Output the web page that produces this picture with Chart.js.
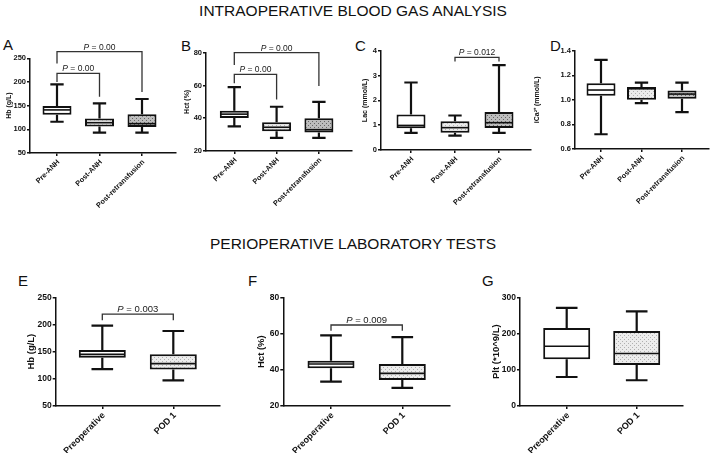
<!DOCTYPE html>
<html>
<head>
<meta charset="utf-8">
<script src="https://cdn.jsdelivr.net/npm/chart.js@4.4.1/dist/chart.umd.min.js"></script>
<style>
  body { margin: 0; background: #fff; width: 710px; height: 453px; position: relative; overflow: hidden;
         font-family: "Liberation Sans", Arial, sans-serif; }
  .title { position: absolute; left: 0; width: 706px; text-align: center; font-size: 15.5px; line-height: 15.5px; color: #111; }
  .letter { position: absolute; font-size: 15px; line-height: 15px; color: #111; }
  canvas { position: absolute; }
</style>
</head>
<body>
<div class="title" style="top:2.5px">INTRAOPERATIVE BLOOD GAS ANALYSIS</div>
<div class="title" style="top:235.5px">PERIOPERATIVE LABORATORY TESTS</div>
<div class="letter" style="left:3px;top:37px">A</div>
<div class="letter" style="left:181px;top:38px">B</div>
<div class="letter" style="left:355px;top:38px">C</div>
<div class="letter" style="left:550px;top:38px">D</div>
<div class="letter" style="left:18px;top:273px">E</div>
<div class="letter" style="left:248px;top:273px">F</div>
<div class="letter" style="left:482px;top:273px">G</div>

<script>
// groups
const intraGroups = ['Pre-ANH', 'Post-ANH', 'Post-retransfusion'];
const periGroups = ['Preoperative', 'POD 1'];

// box stats per group: [min, q1, median, q3, max]
const hbIntra = [[116, 131, 141, 149, 195], [93, 106, 114, 123, 155], [93, 105, 112, 132, 164]];
const hctIntra = [[35, 40.2, 42.5, 44.5, 59], [28, 32, 34.5, 37.6, 47], [28, 31.3, 33, 40, 50]];
const lacIntra = [[0.69, 0.88, 0.99, 1.43, 2.72], [0.58, 0.69, 0.9, 1.16, 1.39], [0.69, 0.89, 1.1, 1.53, 3.42]];
const icaIntra = [[0.72, 1.033, 1.08, 1.136, 1.325], [0.973, 1.0, 1.09, 1.105, 1.14], [0.90, 1.008, 1.047, 1.076, 1.14]];
const hbPeri = [[118, 139, 145, 153, 198], [97, 117, 128, 145, 188]];
const hctPeri = [[33.4, 40.8, 43.2, 45, 59], [30, 34.4, 38, 43.2, 58]];
const pltPeri = [[80, 129, 165, 215, 271], [71, 113, 145, 207, 261]];

// y tick labels
const hbTicks = [50, 100, 150, 200, 250];
const hctTicks = [20, 40, 60, 80];
const lacTicks = [0, 1, 2, 3, 4];
const icaTicks = [0.6, 0.8, 1.0, 1.2, 1.4];
const pltTicks = [0, 100, 200, 300];

// significance brackets: [fromGroup, toGroup, barValue, leftLegEnd, rightLegEnd, p]
const hbIntraP = [[0, 2, 264, 239, 179, '0.00'], [0, 1, 218, 200, 169, '0.00']];
const hctIntraP = [[0, 2, 80, 72.5, 59.6, '0.00'], [0, 1, 66.8, 61.3, 51.5, '0.00']];
const lacIntraP = [[1, 2, 3.73, 3.56, 3.56, '0.012']];
const hbPeriP = [[0, 1, 219, 208, 208, '0.003']];
const hctPeriP = [[0, 1, 64.7, 61.6, 61.6, '0.009']];

function makePattern(base, dot, step) {
  const c = document.createElement('canvas');
  c.width = step * 2; c.height = step * 2;
  const g = c.getContext('2d');
  g.fillStyle = base;
  g.fillRect(0, 0, c.width, c.height);
  g.fillStyle = dot;
  g.fillRect(0, 0, 1, 1);
  g.fillRect(step, step, 1, 1);
  return g.createPattern(c, 'repeat');
}
const lightFill = makePattern('#ececec', '#b0b0b0', 2);
const darkFill = makePattern('#bdbdbd', '#666666', 2);

const FONT = '"Liberation Sans", Arial, sans-serif';

const panels = [
  { groups: intraGroups, boxes: hbIntra, yTicks: hbTicks, title: 'Hb (g/L)', p: hbIntraP,
    area: [30, 58.3, 176, 152.7], c0: 57, step: 42.5, titleX: 9, row: 0 },
  { groups: intraGroups, boxes: hctIntra, yTicks: hctTicks, title: 'Hct (%)', p: hctIntraP,
    area: [206, 52.7, 352, 150.7], c0: 234.3, step: 42.3, titleX: 187.5, row: 0 },
  { groups: intraGroups, boxes: lacIntra, yTicks: lacTicks, title: 'Lac (mmol/L)', p: lacIntraP,
    area: [381, 50.7, 531, 149.3], c0: 411, step: 44, titleX: 365, row: 0 },
  { groups: intraGroups, boxes: icaIntra, yTicks: icaTicks, title: 'iCa²⁺ (mmol/L)', p: [],
    area: [575, 50.7, 709, 148.5], c0: 601, step: 40.5, titleX: 537, row: 0, fixed: 1 },
  { groups: periGroups, boxes: hbPeri, yTicks: hbTicks, title: 'Hb (g/L)', p: hbPeriP,
    area: [55.7, 297.3, 220, 405.7], c0: 102.3, step: 71, titleX: 31.7, row: 1 },
  { groups: periGroups, boxes: hctPeri, yTicks: hctTicks, title: 'Hct (%)', p: hctPeriP,
    area: [283.3, 297.3, 450, 406], c0: 331, step: 71.3, titleX: 261.7, row: 1 },
  { groups: periGroups, boxes: pltPeri, yTicks: pltTicks, title: 'Plt (*10^9/L)', p: [],
    area: [520, 297.3, 683, 406], c0: 566.7, step: 70, titleX: 496, row: 1 }
];

function boxPlugin(panel, sz) {
  return {
    id: 'boxWhiskers',
    afterDatasetsDraw(chart) {
      const { ctx, scales: { x, y } } = chart;
      const meta = chart.getDatasetMeta(0);
      ctx.save();
      ctx.strokeStyle = '#111';
      panel.boxes.forEach((b, i) => {
        const bar = meta.data[i];
        const cx = x.getPixelForValue(i);
        const half = bar.width / 2;
        const cap = bar.width * 0.23;
        const yMin = y.getPixelForValue(b[0]);
        const yQ1 = y.getPixelForValue(b[1]);
        const yMed = y.getPixelForValue(b[2]);
        const yQ3 = y.getPixelForValue(b[3]);
        const yMax = y.getPixelForValue(b[4]);
        ctx.lineWidth = 2.2;
        ctx.beginPath();
        ctx.moveTo(cx, yMax); ctx.lineTo(cx, yQ3);
        ctx.moveTo(cx, yQ1); ctx.lineTo(cx, yMin);
        ctx.moveTo(cx - cap, yMax); ctx.lineTo(cx + cap, yMax);
        ctx.moveTo(cx - cap, yMin); ctx.lineTo(cx + cap, yMin);
        ctx.stroke();
        ctx.lineWidth = 1.6;
        ctx.beginPath();
        ctx.moveTo(cx - half + 1, yMed); ctx.lineTo(cx + half - 1, yMed);
        ctx.stroke();
      });

      // brackets
      ctx.strokeStyle = '#333';
      ctx.fillStyle = '#1a1a1a';
      ctx.lineWidth = 1.3;
      panel.p.forEach(([a, b, v, va, vb, txt]) => {
        const xa = x.getPixelForValue(a);
        const xb = x.getPixelForValue(b);
        const yv = y.getPixelForValue(v);
        ctx.beginPath();
        ctx.moveTo(xa, y.getPixelForValue(va));
        ctx.lineTo(xa, yv);
        ctx.lineTo(xb, yv);
        ctx.lineTo(xb, y.getPixelForValue(vb));
        ctx.stroke();
        const rest = ' = ' + txt;
        ctx.font = `italic ${sz.p}px ${FONT}`;
        const wP = ctx.measureText('P').width;
        ctx.font = `${sz.p}px ${FONT}`;
        const wR = ctx.measureText(rest).width;
        const left = (xa + xb) / 2 - (wP + wR) / 2;
        ctx.textBaseline = 'alphabetic';
        ctx.textAlign = 'left';
        ctx.font = `italic ${sz.p}px ${FONT}`;
        ctx.fillText('P', left, yv - 2);
        ctx.font = `${sz.p}px ${FONT}`;
        ctx.fillText(rest, left + wP, yv - 2);
      });

      // slanted category labels under the x axis
      ctx.fillStyle = '#111';
      ctx.font = `bold ${sz.x}px ${FONT}`;
      ctx.textAlign = 'right';
      ctx.textBaseline = 'middle';
      panel.groups.forEach((g, i) => {
        ctx.save();
        ctx.translate(x.getPixelForValue(i) + 1.5, x.top + sz.xOff);
        ctx.rotate(-Math.PI / 4);
        ctx.fillText(g, 0, 0);
        ctx.restore();
      });
      ctx.restore();
    }
  };
}

panels.forEach(panel => {
  const [L, T, R, B] = panel.area;
  const top = panel.row === 0;
  const sz = top ? { tick: 7.5, title: 7, x: 7.3, p: 8.5, xOff: 8 }
                 : { tick: 8.5, title: 9.5, x: 9, p: 9.5, xOff: 8 };
  const boxW = top ? 29 : 47;
  const xAxisH = top ? 72 : 64;

  const cx = Math.round(L - 50);
  const cy = Math.round(T - 28);
  const width = Math.ceil(R + 4 - cx);
  const height = Math.ceil(B - cy + xAxisH);
  const lh = sz.title * 1.2;
  const padLeft = panel.titleX - lh / 2 - cx;
  const yAxisW = L - cx - padLeft;

  const canvas = document.createElement('canvas');
  canvas.width = width; canvas.height = height;
  canvas.style.left = cx + 'px'; canvas.style.top = cy + 'px';
  canvas.style.width = width + 'px'; canvas.style.height = height + 'px';
  document.body.appendChild(canvas);

  const fills = panel.boxes.map((b, i) => i === 0 ? '#ffffff' : (i === 1 ? lightFill : darkFill));

  new Chart(canvas.getContext('2d'), {
    type: 'bar',
    data: {
      labels: panel.groups,
      datasets: [{
        data: panel.boxes.map((b, i) => ({ x: i, y: [b[1], b[3]] })),
        backgroundColor: fills,
        borderColor: '#111',
        borderWidth: 2,
        borderSkipped: false,
        barPercentage: 1,
        categoryPercentage: boxW / panel.step
      }]
    },
    options: {
      responsive: false,
      animation: false,
      devicePixelRatio: 1,
      layout: { padding: { left: padLeft, top: T - cy, right: cx + width - R, bottom: 0 } },
      plugins: { legend: { display: false }, tooltip: { enabled: false } },
      scales: {
        x: {
          type: 'linear',
          offset: false,
          min: -(panel.c0 - L) / panel.step,
          max: (R - panel.c0) / panel.step,
          afterBuildTicks: s => { s.ticks = panel.groups.map((g, i) => ({ value: i })); },
          afterFit: s => { s.height = xAxisH; },
          ticks: { display: false },
          grid: { display: true, offset: false, drawOnChartArea: false, drawTicks: true, tickLength: 3, color: '#111', lineWidth: 1.5 },
          border: { display: true, color: '#111', width: 1.5 }
        },
        y: {
          type: 'linear',
          min: panel.yTicks[0],
          max: panel.yTicks[panel.yTicks.length - 1],
          afterBuildTicks: s => { s.ticks = panel.yTicks.map(v => ({ value: v })); },
          afterFit: s => { s.width = yAxisW; },
          ticks: {
            padding: 1, color: '#111', font: { family: FONT, size: sz.tick, weight: 'bold' },
            callback: v => panel.fixed ? v.toFixed(panel.fixed) : String(v)
          },
          title: {
            display: true, text: panel.title, padding: 0, color: '#111',
            font: { family: FONT, size: sz.title, weight: 'bold', lineHeight: 1.2 }
          },
          grid: { display: true, drawOnChartArea: false, drawTicks: true, tickLength: 3, color: '#111', lineWidth: 1.5 },
          border: { display: true, color: '#111', width: 1.5 }
        }
      }
    },
    plugins: [boxPlugin(panel, sz)]
  });
});
</script>
</body>
</html>
